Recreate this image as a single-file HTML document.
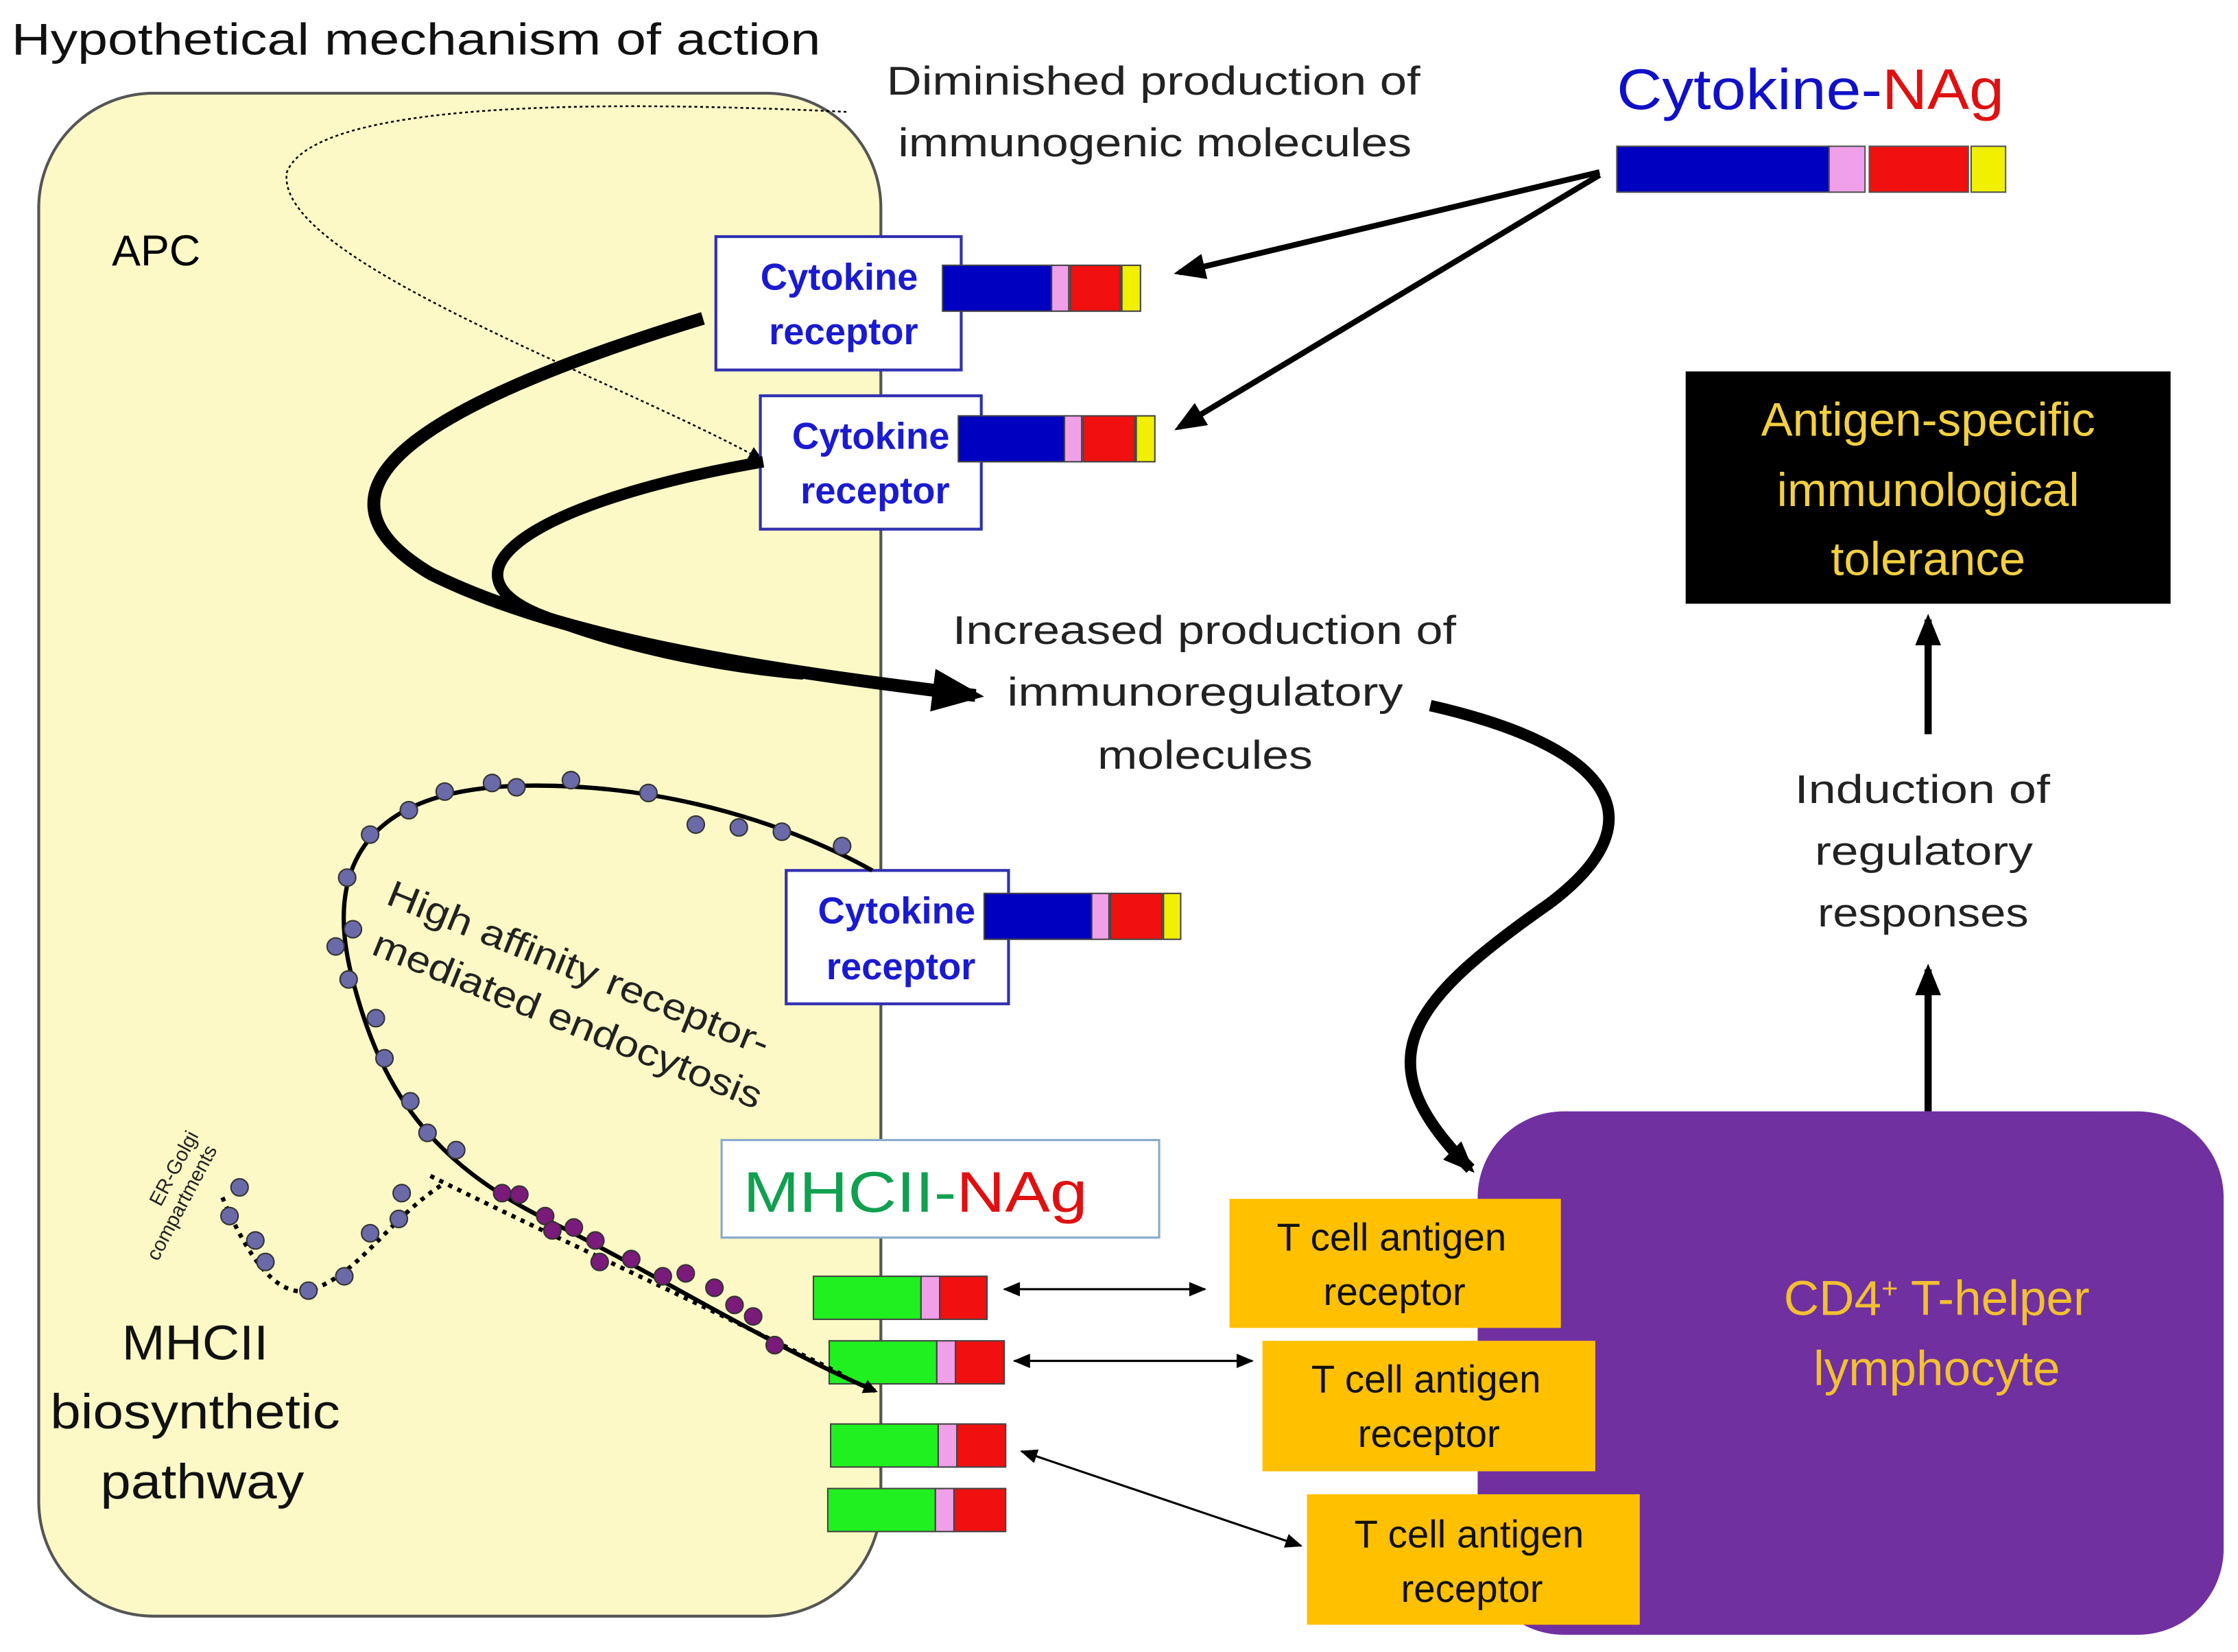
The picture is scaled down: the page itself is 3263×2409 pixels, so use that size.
<!DOCTYPE html>
<html><head><meta charset="utf-8"><style>html,body{margin:0;padding:0;background:#fff}svg{display:block}text{font-family:"Liberation Sans",sans-serif}</style></head><body>
<svg width="3263" height="2409" viewBox="0 0 1560 1152" preserveAspectRatio="none" xmlns="http://www.w3.org/2000/svg">
<defs>
<marker id="ah" markerWidth="10" markerHeight="10" refX="8" refY="5" orient="auto" markerUnits="userSpaceOnUse"><path d="M0,0 L10,5 L0,10 z" fill="#000"/></marker>
<marker id="ahb" markerWidth="36" markerHeight="30" refX="30" refY="15" orient="auto" markerUnits="userSpaceOnUse"><path d="M0,0 L36,15 L0,30 z" fill="#000"/></marker>
<marker id="ahm" markerWidth="22" markerHeight="18" refX="18" refY="9" orient="auto" markerUnits="userSpaceOnUse"><path d="M0,0 L22,9 L0,18 z" fill="#000"/></marker>
<marker id="ahs" markerWidth="12" markerHeight="10" refX="11" refY="5" orient="auto-start-reverse" markerUnits="userSpaceOnUse"><path d="M0,0 L12,5 L0,10 z" fill="#000"/></marker>
</defs>
<text x="8" y="38" font-size="31" fill="#111" textLength="564" lengthAdjust="spacingAndGlyphs">Hypothetical mechanism of action</text>
<rect x="27" y="65" width="587" height="1062" rx="80" fill="#fcf9c6" stroke="#555" stroke-width="2"/>
<text x="78" y="185" font-size="30">APC</text>
<text x="618" y="66" font-size="28" fill="#222" textLength="372" lengthAdjust="spacingAndGlyphs">Diminished production of</text>
<text x="626" y="109" font-size="28" fill="#222" textLength="358" lengthAdjust="spacingAndGlyphs">immunogenic molecules</text>
<path d="M590,78 C420,70 220,70 200,120 C190,180 420,260 530,320" fill="none" stroke="#000" stroke-width="1.2" stroke-dasharray="2,2" marker-end="url(#ah)"/>
<text x="1127" y="76" font-size="40" font-family="Liberation Serif,serif" textLength="270" lengthAdjust="spacingAndGlyphs"><tspan fill="#1010c8">Cytokine-</tspan><tspan fill="#e01010">NAg</tspan></text>
<g stroke="#555" stroke-width="1"><rect x="1127" y="102" width="148" height="32" fill="#0000c0"/><rect x="1275" y="102" width="25" height="32" fill="#f0a0e8"/><rect x="1303" y="102" width="69" height="32" fill="#f01010"/><rect x="1374" y="102" width="24" height="32" fill="#f0f000"/></g>
<g font-weight="bold" fill="#1a1ad0" font-size="26" text-anchor="middle">
<rect x="499" y="165" width="171" height="93" fill="#fff" stroke="#3030b0" stroke-width="2"/>
<text x="585" y="202">Cytokine</text><text x="588" y="240">receptor</text>
<rect x="530" y="276" width="154" height="93" fill="#fff" stroke="#3030b0" stroke-width="2"/>
<text x="607" y="313">Cytokine</text><text x="610" y="351">receptor</text>
<rect x="548" y="607" width="155" height="93" fill="#fff" stroke="#3030b0" stroke-width="2"/>
<text x="625" y="644">Cytokine</text><text x="628" y="683">receptor</text>
</g>
<g stroke="#444" stroke-width="1">
<rect x="657" y="185" width="76" height="32" fill="#0000c0"/><rect x="733" y="185" width="12" height="32" fill="#f0a0e8"/><rect x="746" y="185" width="35" height="32" fill="#f01010"/><rect x="782" y="185" width="13" height="32" fill="#f0f000"/>
<rect x="668" y="290" width="74" height="32" fill="#0000c0"/><rect x="742" y="290" width="12" height="32" fill="#f0a0e8"/><rect x="755" y="290" width="36" height="32" fill="#f01010"/><rect x="792" y="290" width="13" height="32" fill="#f0f000"/>
<rect x="686" y="623" width="75" height="32" fill="#0000c0"/><rect x="761" y="623" width="12" height="32" fill="#f0a0e8"/><rect x="774" y="623" width="36" height="32" fill="#f01010"/><rect x="811" y="623" width="12" height="32" fill="#f0f000"/>
</g>
<line x1="1115" y1="120" x2="822" y2="190" stroke="#000" stroke-width="4" marker-end="url(#ahm)"/>
<line x1="1115" y1="122" x2="822" y2="298" stroke="#000" stroke-width="4" marker-end="url(#ahm)"/>
<path d="M490,222 C300,280 200,340 300,400 C400,450 560,470 680,485" fill="none" stroke="#000" stroke-width="9" marker-end="url(#ahb)"/>
<path d="M532,322 C370,350 300,400 380,430 C430,450 500,465 560,470" fill="none" stroke="#000" stroke-width="8"/>
<rect x="1175" y="259" width="338" height="162" fill="#000"/>
<g fill="#f2d040" font-size="33" text-anchor="middle"><text x="1344" y="304">Antigen-specific</text><text x="1344" y="353">immunological</text><text x="1344" y="401">tolerance</text></g>
<line x1="1344" y1="512" x2="1344" y2="432" stroke="#000" stroke-width="5" marker-end="url(#ahm)"/>
<g font-size="28" fill="#222"><text x="1251" y="560" textLength="178" lengthAdjust="spacingAndGlyphs">Induction of</text><text x="1265" y="603" textLength="152" lengthAdjust="spacingAndGlyphs">regulatory</text><text x="1267" y="646" textLength="147" lengthAdjust="spacingAndGlyphs">responses</text>
<text x="664" y="449" textLength="351" lengthAdjust="spacingAndGlyphs">Increased production of</text><text x="702" y="492" textLength="276" lengthAdjust="spacingAndGlyphs">immunoregulatory</text><text x="765" y="536" textLength="150" lengthAdjust="spacingAndGlyphs">molecules</text></g>
<line x1="1344" y1="775" x2="1344" y2="676" stroke="#000" stroke-width="5" marker-end="url(#ahm)"/>
<path d="M997,492 C1120,520 1160,570 1080,630 C980,700 950,740 1025,815" fill="none" stroke="#000" stroke-width="8" marker-end="url(#ahm)"/>
<rect x="1030" y="775" width="520" height="365" rx="60" fill="#7030a0"/>
<g fill="#f2c030" font-size="34" text-anchor="middle"><text x="1350" y="917">CD4<tspan font-size="20" dy="-12">+</tspan><tspan dy="12"> T-helper</tspan></text><text x="1350" y="966">lymphocyte</text></g>
<g fill="#ffc000"><rect x="857" y="836" width="231" height="90"/><rect x="880" y="935" width="232" height="91"/><rect x="911" y="1042" width="232" height="91"/></g>
<g font-size="27" text-anchor="middle" fill="#111"><text x="970" y="872">T cell antigen</text><text x="972" y="910">receptor</text><text x="994" y="971">T cell antigen</text><text x="996" y="1009">receptor</text><text x="1024" y="1079">T cell antigen</text><text x="1026" y="1117">receptor</text></g>
<rect x="503" y="795" width="305" height="68" fill="#fff" stroke="#88aacc" stroke-width="1.5"/>
<text x="518" y="845" font-size="40" font-family="Liberation Serif,serif" textLength="240" lengthAdjust="spacingAndGlyphs"><tspan fill="#10a050">MHCII-</tspan><tspan fill="#e01010">NAg</tspan></text>
<g stroke="#444" stroke-width="1">
<rect x="567" y="890" width="75" height="30" fill="#20f020"/><rect x="642" y="890" width="13" height="30" fill="#f0a0e8"/><rect x="655" y="890" width="33" height="30" fill="#f01010"/>
<rect x="578" y="935" width="75" height="30" fill="#20f020"/><rect x="653" y="935" width="13" height="30" fill="#f0a0e8"/><rect x="666" y="935" width="34" height="30" fill="#f01010"/>
<rect x="579" y="993" width="75" height="30" fill="#20f020"/><rect x="654" y="993" width="13" height="30" fill="#f0a0e8"/><rect x="667" y="993" width="34" height="30" fill="#f01010"/>
<rect x="577" y="1038" width="75" height="30" fill="#20f020"/><rect x="652" y="1038" width="13" height="30" fill="#f0a0e8"/><rect x="665" y="1038" width="36" height="30" fill="#f01010"/>
</g>
<g stroke="#000" stroke-width="1.5" marker-start="url(#ahs)" marker-end="url(#ahs)"><line x1="700" y1="899" x2="840" y2="899"/><line x1="707" y1="949" x2="873" y2="949"/><line x1="712" y1="1012" x2="907" y2="1078"/></g>
<path d="M608,607 C560,580 470,545 360,548 C240,552 230,620 245,680 C265,760 300,810 380,850 C460,890 540,940 610,970" fill="none" stroke="#000" stroke-width="3" marker-end="url(#ah)"/>
<path d="M300,820 C380,860 470,900 590,960" fill="none" stroke="#000" stroke-width="3" stroke-dasharray="3,4"/>
<path d="M155,835 C170,870 190,905 215,900 C250,890 270,850 310,825" fill="none" stroke="#000" stroke-width="3" stroke-dasharray="3,4"/>
<g fill="#6a6aa8" stroke="#333" stroke-width="1">
<circle cx="587" cy="590" r="6"/><circle cx="545" cy="580" r="6"/><circle cx="515" cy="577" r="6"/><circle cx="485" cy="575" r="6"/><circle cx="452" cy="553" r="6"/><circle cx="398" cy="544" r="6"/><circle cx="360" cy="549" r="6"/><circle cx="343" cy="546" r="6"/><circle cx="310" cy="552" r="6"/><circle cx="285" cy="565" r="6"/><circle cx="258" cy="582" r="6"/><circle cx="242" cy="612" r="6"/><circle cx="246" cy="648" r="6"/><circle cx="234" cy="660" r="6"/><circle cx="243" cy="683" r="6"/><circle cx="262" cy="710" r="6"/><circle cx="268" cy="738" r="6"/><circle cx="286" cy="768" r="6"/><circle cx="298" cy="790" r="6"/><circle cx="318" cy="802" r="6"/><circle cx="167" cy="828" r="6"/><circle cx="160" cy="848" r="6"/><circle cx="178" cy="865" r="6"/><circle cx="185" cy="880" r="6"/><circle cx="215" cy="900" r="6"/><circle cx="240" cy="890" r="6"/><circle cx="258" cy="860" r="6"/><circle cx="278" cy="850" r="6"/><circle cx="280" cy="832" r="6"/>
</g>
<g fill="#7a1a7a" stroke="#333" stroke-width="1">
<circle cx="350" cy="832" r="6"/><circle cx="362" cy="833" r="6"/><circle cx="380" cy="848" r="6"/><circle cx="385" cy="858" r="6"/><circle cx="400" cy="856" r="6"/><circle cx="418" cy="880" r="6"/><circle cx="440" cy="878" r="6"/><circle cx="462" cy="890" r="6"/><circle cx="478" cy="888" r="6"/><circle cx="498" cy="898" r="6"/><circle cx="512" cy="910" r="6"/><circle cx="525" cy="918" r="6"/><circle cx="540" cy="938" r="6"/><circle cx="415" cy="865" r="6"/>
</g>
<text transform="translate(268,630) rotate(22)" font-size="26" fill="#222" textLength="285" lengthAdjust="spacingAndGlyphs">High affinity receptor-</text>
<text transform="translate(258,665) rotate(22)" font-size="26" fill="#222" textLength="290" lengthAdjust="spacingAndGlyphs">mediated endocytosis</text>
<text transform="translate(112,842) rotate(-62)" font-size="14" fill="#222">ER-Golgi</text>
<text transform="translate(110,880) rotate(-62)" font-size="14" fill="#222">compartments</text>
<g font-size="34" fill="#111"><text x="85" y="948" textLength="102" lengthAdjust="spacingAndGlyphs">MHCII</text><text x="35" y="996" textLength="202" lengthAdjust="spacingAndGlyphs">biosynthetic</text><text x="70" y="1045" textLength="142" lengthAdjust="spacingAndGlyphs">pathway</text></g>
</svg>
</body></html>
